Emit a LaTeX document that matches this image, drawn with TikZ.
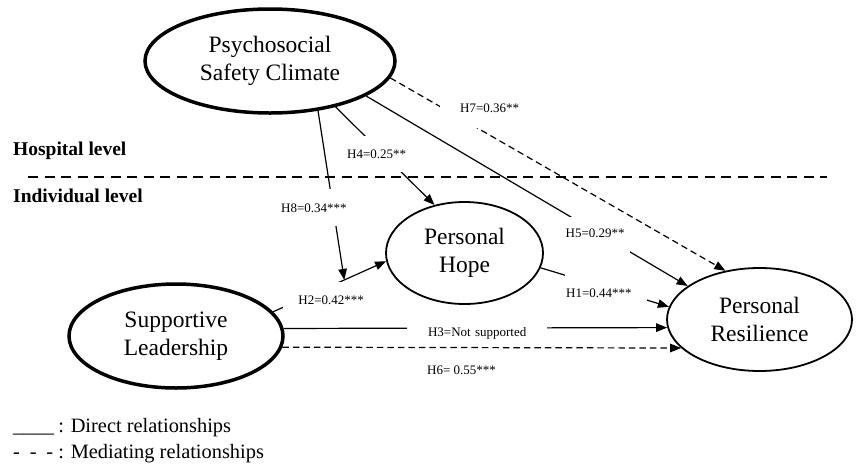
\documentclass[tikz,border=0pt]{standalone}
\usepackage{fontspec}
\setmainfont{Liberation Serif}
\usetikzlibrary{shapes.geometric,arrows.meta}
\newcommand{\constructfont}{\fontsize{23.5}{28}\selectfont}
\newcommand{\coeffont}{\fontsize{13}{15}\selectfont}
\newcommand{\levelfont}{\fontsize{19.5}{23}\selectfont\bfseries}
\newcommand{\legendfont}{\fontsize{20.4}{24}\selectfont}
\tikzset{
  construct/.style={ellipse,draw,inner sep=0pt,align=center,font=\constructfont},
  outer construct/.style={construct,line width=3.5pt},
  inner construct/.style={construct,line width=1.8pt},
  link/.style={line width=1.2pt,-{Triangle[length=11pt,width=8.5pt]}},
  medlink/.style={link,dash pattern=on 6.5pt off 4pt},
  coef/.style={fill=white,inner xsep=1pt,inner ysep=0pt,font=\coeffont,anchor=north west},
  plaintext/.style={inner sep=0pt,anchor=base west},
}

\begin{document}
\begin{tikzpicture}[x=1pt,y=-1pt]
    \useasboundingbox (0,0) rectangle (856,464);
    \node[outer construct,minimum width=250pt,minimum height=104pt] (psc) at (270,61) {Psychosocial\\Safety Climate};
    \node[outer construct,minimum width=214pt,minimum height=104pt] (lead) at (176,336) {Supportive\\Leadership};
    \node[inner construct,minimum width=157pt,minimum height=102pt] (hope) at (464.5,253) {Personal\\Hope};
    \node[inner construct,minimum width=185pt,minimum height=103pt] (res) at (759.5,319.5) {Personal\\Resilience};
    \node[plaintext,font=\levelfont] (hospital) at (13,155) {Hospital level};
    \node[plaintext,font=\levelfont] (individual) at (13,202) {Individual level};
    \draw[line width=2.5pt,dash pattern=on 10pt off 6.5pt] (28,177) -- (827,177);
    \draw[link] (psc.-35) -- (hope.122.5);
    \draw[link] (psc.-20.4) -- (res.155.7);
    \draw[link] (hope.-11) -- (res.172.2);
    \draw[link] (lead.14.2) -- coordinate[pos=0.63] (h2mid) (hope.186.3);
    \draw[link] (lead.4.3) -- (res.185.3);
    \draw[link] (psc.-46.1) -- (h2mid);
    \draw[medlink] (psc.-8.85) -- (res.125.3);
    \draw[medlink] (lead.-6.6) -- (res.200);
    \node[coef,text width=78pt,align=right,text height=15pt,text depth=16pt] (h7) at (440,97) {H7=0.36**};
    \node[coef,text width=61pt,align=center,text height=22pt,text depth=14pt] (h4) at (345,136) {H4=0.25**};
    \node[coef,text width=65pt,align=center,text height=23pt,text depth=14pt] (h8) at (280,189) {H8=0.34***};
    \node[coef,text width=94pt,align=center,text height=22pt,text depth=12pt] (h2) at (283,282) {H2=0.42***};
    \node[coef,text width=68pt,align=center,text height=20pt,text depth=16pt] (h5) at (560,217) {H5=0.29**};
    \node[coef,text width=80pt,align=left,text height=23pt,text depth=9pt] (h1) at (565,274) {H1=0.44***};
    \node[coef,text width=138pt,align=center,text height=14pt,text depth=8pt] (h3) at (407,322) {H3=Not supported};
    \node[coef,anchor=base west] (h6) at (426,374) {H6= 0.55***};
    \node[plaintext,font=\legendfont] (direct) at (13,432) {\makebox[40pt][l]{\_\_\_\_} : Direct relationships};
    \node[plaintext,font=\legendfont] (mediating) at (13,458) {\makebox[40pt][s]{-\hfill-\hfill-} : Mediating relationships};
\end{tikzpicture}
\end{document}
